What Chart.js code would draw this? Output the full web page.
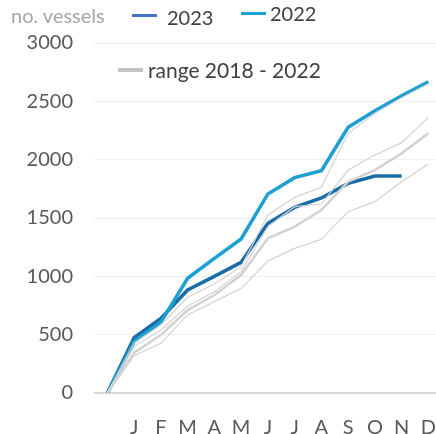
<!DOCTYPE html>
<html>
<head>
<meta charset="utf-8">
<script src="https://cdn.jsdelivr.net/npm/chart.js@4"></script>
<style>
  body { margin: 0; background: #fff; font-family: Lato, sans-serif; overflow: hidden; }
  #wrap { position: relative; width: 436px; height: 434px; overflow: hidden; }
  canvas { position: absolute; left: 0; top: 0; }
  .lbl { position: absolute; font-size: 20px; line-height: 20px; color: #404040; white-space: nowrap; }
  .sw { position: absolute; height: 3px; width: 25px; }
</style>
</head>
<body>
<div id="wrap">
  <canvas id="grafica" width="451" height="434"></canvas>
  <div class="lbl" style="left:11px;top:5px;color:#a6a6a6;font-size:20px">no. vessels</div>
  <div class="sw" style="left:132px;top:14px;background:#4472c4"></div>
  <div class="lbl" style="left:167px;top:7px">2023</div>
  <div class="sw" style="left:241px;top:12px;background:#1ca0d6"></div>
  <div class="lbl" style="left:270px;top:3px">2022</div>
  <div class="sw" style="left:118px;top:68px;height:4px;background:#c4c4c4"></div>
  <div class="lbl" style="left:148px;top:60px;font-size:21px">range 2018 - 2022</div>
</div>
<script>
// meses (el primero vacío = punto de partida en 0)
var meses = ['', 'J', 'F', 'M', 'A', 'M', 'J', 'J', 'A', 'S', 'O', 'N', 'D'];
var ticksY = [0, 500, 1000, 1500, 2000, 2500, 3000];

var datos2023 = [0, 474, 640, 883, 1000, 1120, 1455, 1591, 1672, 1797, 1860, 1860, null];
var datos2022 = [0, 440, 608, 983, 1154, 1320, 1706, 1846, 1906, 2277, 2420, 2548, 2668];

// líneas grises del rango 2018 - 2022
var rangoA = [0, 430, 583, 820, 934, 1083, 1526, 1677, 1763, 2226, 2397, 2530, 2650];
var rangoB = [0, 400, 540, 746, 868, 1040, 1425, 1597, 1620, 1911, 2040, 2146, 2363];
var rangoC = [0, 345, 497, 711, 840, 1011, 1326, 1426, 1569, 1811, 1911, 2054, 2226];
var rangoD = [0, 320, 426, 669, 783, 897, 1131, 1240, 1317, 1554, 1640, 1811, 1963];

function gris(data, ancho) {
    return {
        data: data,
        borderColor: '#d2d2d2',
        borderWidth: ancho,
        pointRadius: 0,
        tension: 0
    };
}

var ctx = document.getElementById('grafica').getContext('2d');
var grafica = new Chart(ctx, {
    type: 'line',
    data: {
        labels: meses,
        datasets: [
            gris(rangoA, 1.2),
            gris(rangoB, 1.2),
            gris(rangoC, 2.5),
            gris(rangoD, 1.2),
            {
                label: '2022',
                data: datos2022,
                borderColor: '#1ca0d3',
                borderWidth: 3.5,
                pointRadius: 0
            },
            {
                label: '2023',
                data: datos2023,
                borderColor: '#1a6ca8',
                borderWidth: 3.5,
                pointRadius: 0
            }
        ]
    },
    options: {
        responsive: false,
        animation: false,
        layout: { padding: { top: 43, right: 0, left: 0, bottom: 0 } },
        plugins: {
            legend: { display: false },
            tooltip: { enabled: false }
        },
        scales: {
            x: {
                offset: true,
                grid: { display: false },
                border: { display: false },
                ticks: {
                    color: '#595959',
                    font: { family: 'Lato', size: 20 },
                    padding: 15,
                    maxRotation: 0,
                    autoSkip: false
                },
                afterFit: function (scale) { scale.height = 41; }
            },
            y: {
                min: 0,
                max: 3000,
                afterBuildTicks: function (scale) {
                    scale.ticks = ticksY.map(function (v) { return { value: v }; });
                },
                grid: {
                    drawTicks: false,
                    color: function (c) { return c.tick && c.tick.value === 0 ? '#d6d6d6' : '#efefef'; },
                    lineWidth: function (c) { return c.tick && c.tick.value === 0 ? 2 : 1; }
                },
                border: { display: false },
                ticks: {
                    color: '#595959',
                    font: { family: 'Lato', size: 20 },
                    padding: 21,
                    callback: function (v) { return String(v); }
                },
                afterFit: function (scale) { scale.width = 94; }
            }
        }
    }
});
</script>
</body>
</html>
